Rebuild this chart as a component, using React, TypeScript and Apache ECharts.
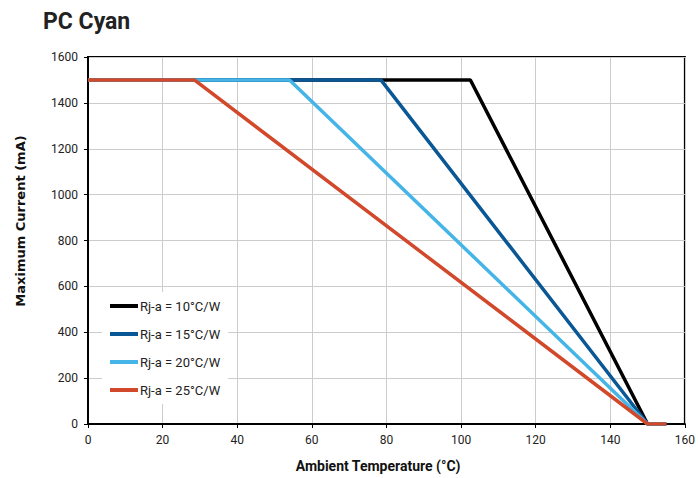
import React, { useEffect, useRef } from "react";
import * as echarts from "echarts";

const seriesNames = ["Rj-a = 10°C/W", "Rj-a = 15°C/W", "Rj-a = 20°C/W", "Rj-a = 25°C/W"];
const seriesColors = ["#000000", "#0a5796", "#45b5e8", "#d2482a"];
const tempPoints: number[][] = [
  [0, 102.5, 150, 155],
  [0, 78.5, 150, 155],
  [0, 54, 150, 155],
  [0, 28.5, 150, 155],
];
const currentPoints: number[][] = [
  [1500, 1500, 0, 0],
  [1500, 1500, 0, 0],
  [1500, 1500, 0, 0],
  [1500, 1500, 0, 0],
];
const xTicks = { min: 0, max: 160, interval: 20 };
const yTicks = { min: 0, max: 1600, interval: 200 };

export default function App() {
  const ref = useRef<HTMLDivElement>(null);
  useEffect(() => {
    document.body.style.margin = "0";
    const chart = echarts.init(ref.current!, null, { renderer: "svg" });
    const series = seriesNames.map((name, i) => ({
      name,
      type: "line",
      data: tempPoints[i].map((t, j) => [t, currentPoints[i][j]]),
      showSymbol: false,
      symbol: "none",
      lineStyle: { color: seriesColors[i], width: 3.5 },
      itemStyle: { color: seriesColors[i] },
      z: 2 + i,
    }));
    chart.setOption({
      animation: false,
      backgroundColor: "#ffffff",
      title: {
        text: "PC Cyan",
        left: 38,
        top: 5,
        textStyle: { fontFamily: "Roboto", fontWeight: "bold", fontSize: 23, color: "#222" },
      },
      grid: {
        left: 88,
        right: 7,
        top: 57,
        bottom: 54,
        show: true,
        borderColor: "#000",
        borderWidth: 2,
      },
      legend: {
        orient: "vertical",
        left: 102,
        top: 292,
        itemWidth: 28,
        itemHeight: 4,
        itemGap: 12,
        icon: "rect",
        backgroundColor: "#ffffff",
        padding: [6, 8, 6, 8],
        textStyle: { fontFamily: "Roboto", fontSize: 13, color: "#222", lineHeight: 16, padding: [0, 0, 0, -3] },
        data: seriesNames,
      },
      xAxis: {
        type: "value",
        min: xTicks.min,
        max: xTicks.max,
        interval: xTicks.interval,
        axisLine: { show: true, lineStyle: { color: "#000", width: 2 } },
        axisTick: { show: true, length: 4, lineStyle: { color: "#000" } },
        axisLabel: { fontFamily: "Roboto", fontSize: 12, color: "#222", margin: 10 },
        splitLine: { show: true, lineStyle: { color: "#cccccc", width: 1 } },
      },
      yAxis: {
        type: "value",
        min: yTicks.min,
        max: yTicks.max,
        interval: yTicks.interval,
        axisLine: { show: true, lineStyle: { color: "#000", width: 2 } },
        axisTick: { show: true, length: 4, lineStyle: { color: "#000" } },
        axisLabel: {
          fontFamily: "Roboto",
          fontSize: 12,
          color: "#222",
          margin: 10,
          formatter: (v: number) => String(v),
        },
        splitLine: { show: true, lineStyle: { color: "#cccccc", width: 1 } },
      },
      graphic: [
        {
          type: "text",
          x: 378,
          y: 466,
          style: {
            text: "Ambient Temperature (°C)",
            textAlign: "center",
            textVerticalAlign: "middle",
            fontFamily: "Roboto",
            fontWeight: "bold",
            fontSize: 14,
            fill: "#111",
          },
        },
        {
          type: "text",
          x: 20,
          y: 221,
          rotation: Math.PI / 2,
          style: {
            text: "Maximum Current (mA)",
            textAlign: "center",
            textVerticalAlign: "middle",
            fontFamily: "DejaVu Sans",
            fontWeight: "bold",
            fontSize: 13,
            fill: "#111",
          },
        },
      ],
      series,
    });
    return () => chart.dispose();
  }, []);
  return <div ref={ref} style={{ width: 698, height: 478 }} />;
}
